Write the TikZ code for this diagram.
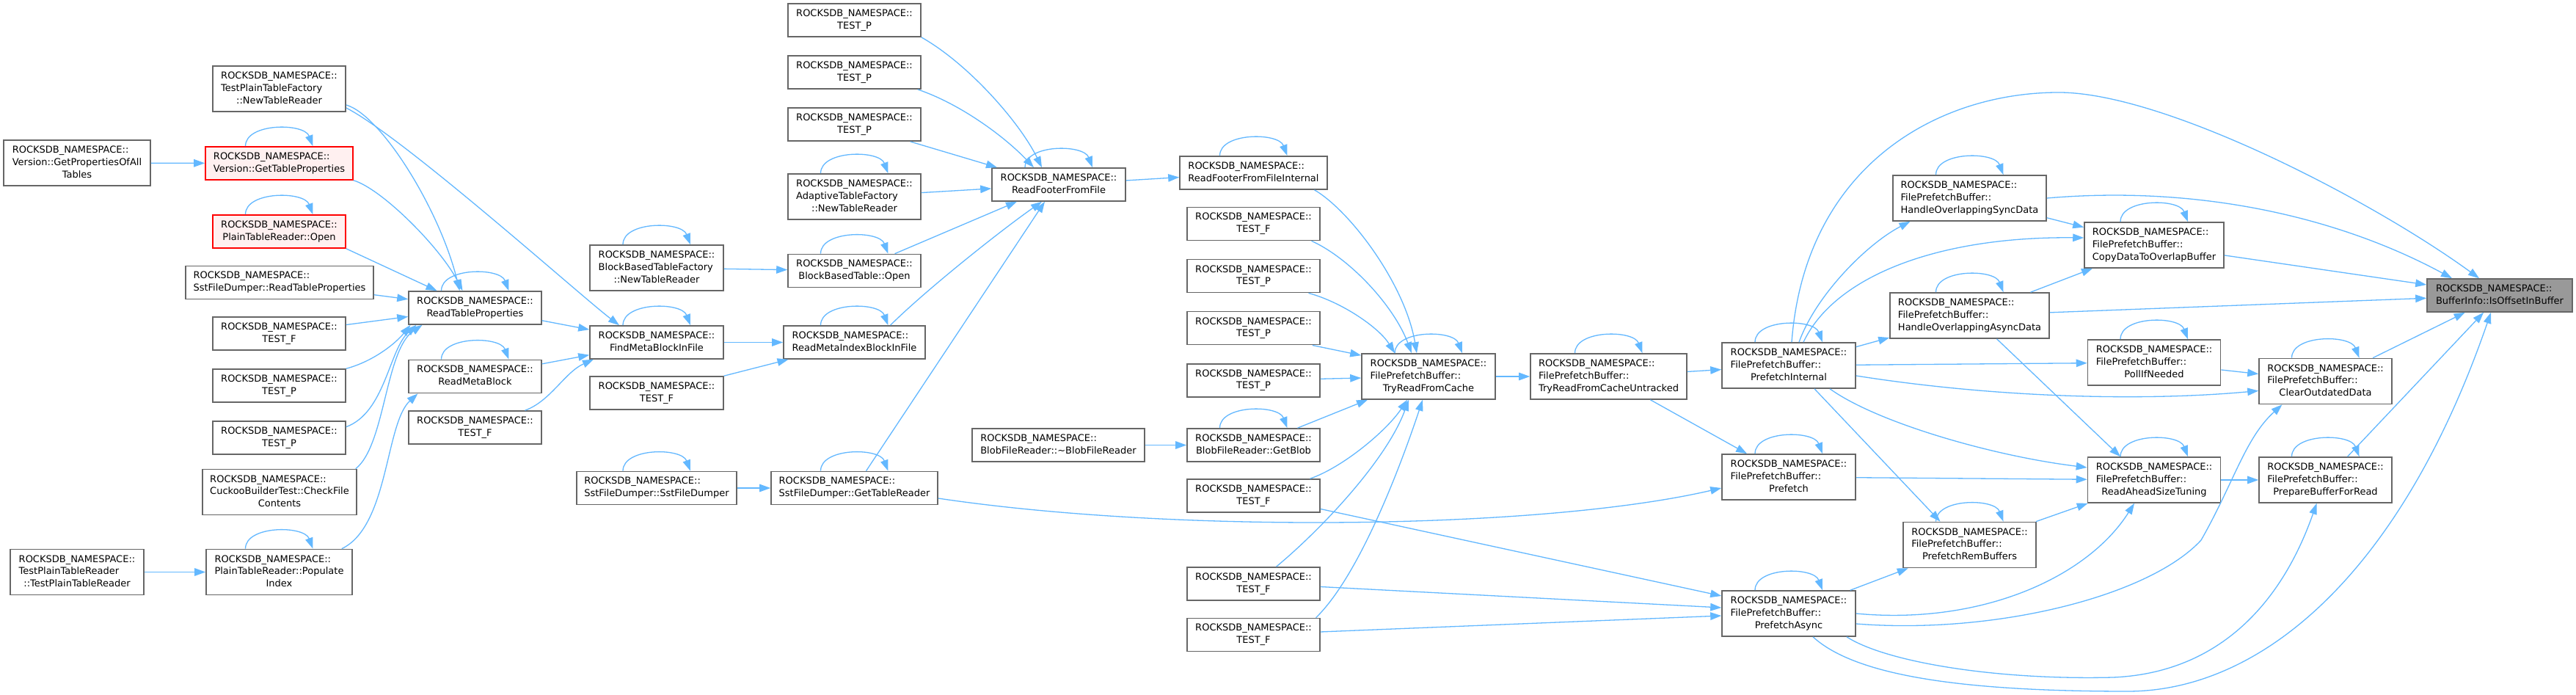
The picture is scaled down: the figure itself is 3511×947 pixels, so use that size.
\documentclass[tikz,border=0pt]{standalone}
\usepackage{fontspec}
\setmainfont{DejaVu Sans}
\usepackage{tikz}
\usetikzlibrary{positioning,arrows.meta}
\definecolor{callblue}{HTML}{63B8FF}
\definecolor{boxgray}{HTML}{666666}
\definecolor{rootgray}{HTML}{999999}
\definecolor{redfill}{HTML}{FFF0F0}
\newcommand{\nsTwo}[1]{\begin{tabular}{@{}l@{}}ROCKSDB\_NAMESPACE::\\\multicolumn{1}{@{}c@{}}{#1}\end{tabular}}
\newcommand{\nsThree}[2]{\begin{tabular}{@{}l@{}}ROCKSDB\_NAMESPACE::\\#1\\\multicolumn{1}{@{}c@{}}{#2}\end{tabular}}

\begin{document}
\begin{tikzpicture}[
  x=1pt, y=1pt,
  node distance=24.5pt,
  fn/.style={rectangle, draw=boxgray, fill=white, line width=1.6pt, inner sep=0pt, minimum height=45pt, font=\fontsize{13}{16.7}\selectfont},
  tallbox/.style={minimum height=62pt},
  redbox/.style={draw=red, fill=redfill},
  rootbox/.style={fill=rootgray},
  calledge/.style={->, draw=callblue, line width=1.3pt},
  >={Triangle[length=15pt,width=10.5pt]}
]
  \useasboundingbox[fill=white] (0,0) rectangle (3511,947);

  \node[fn, rootbox, minimum width=198pt] (n0) at (3407,544.5) {\nsTwo{BufferInfo::IsOffsetInBuffer}};
  \node[fn, tallbox, minimum width=181pt] (cod) at (3169.5,427.5) {\nsThree{FilePrefetchBuffer::}{ClearOutdatedData}};
  \node[fn, tallbox, minimum width=181pt] (pbr) at (3169.5,293) {\nsThree{FilePrefetchBuffer::}{PrepareBufferForRead}};
  \node[fn, tallbox, minimum width=190pt] (cdo) at (2936,613) {\nsThree{FilePrefetchBuffer::}{CopyDataToOverlapBuffer}};
  \node[fn, tallbox, minimum width=181pt] (pin) at (2936,453) {\nsThree{FilePrefetchBuffer::}{PollIfNeeded}};
  \node[fn, tallbox, minimum width=181pt] (rast) at (2936,293) {\nsThree{FilePrefetchBuffer::}{ReadAheadSizeTuning}};
  \node[fn, tallbox, minimum width=209pt] (hosd) at (2684.5,677) {\nsThree{FilePrefetchBuffer::}{HandleOverlappingSyncData}};
  \node[fn, tallbox, minimum width=217pt] (hoad) at (2684.5,517) {\nsThree{FilePrefetchBuffer::}{HandleOverlappingAsyncData}};
  \node[fn, tallbox, minimum width=181pt] (prb) at (2684.5,204.5) {\nsThree{FilePrefetchBuffer::}{PrefetchRemBuffers}};
  \node[fn, tallbox, minimum width=182pt] (pint) at (2438,449) {\nsThree{FilePrefetchBuffer::}{PrefetchInternal}};
  \node[fn, tallbox, minimum width=182pt] (pf) at (2438,297) {\nsThree{FilePrefetchBuffer::}{Prefetch}};
  \node[fn, tallbox, minimum width=182pt] (pa) at (2438,111) {\nsThree{FilePrefetchBuffer::}{PrefetchAsync}};
  \node[fn, tallbox, minimum width=213pt] (trcu) at (2192.5,434) {\nsThree{FilePrefetchBuffer::}{TryReadFromCacheUntracked}};
  \node[fn, tallbox, minimum width=182pt] (trc) at (1947,434) {\nsThree{FilePrefetchBuffer::}{TryReadFromCache}};

  \node[fn, minimum width=201pt] (rffi) at (1708.5,711.5) {\nsTwo{ReadFooterFromFileInternal}};
  \node[fn, minimum width=181pt] (tf1) at (1708.5,642) {\nsTwo{TEST\_F}};
  \node[fn, minimum width=181pt, below=of tf1] (tp1) {\nsTwo{TEST\_P}};
  \node[fn, minimum width=181pt, below=of tp1] (tp2) {\nsTwo{TEST\_P}};
  \node[fn, minimum width=181pt, below=of tp2] (tp3) {\nsTwo{TEST\_P}};
  \node[fn, minimum width=181pt] (gb) at (1708.5,340.5) {\nsTwo{BlobFileReader::GetBlob}};
  \node[fn, minimum width=181pt] (tf2) at (1708.5,271.5) {\nsTwo{TEST\_F}};
  \node[fn, minimum width=181pt] (tf3) at (1708.5,151.5) {\nsTwo{TEST\_F}};
  \node[fn, minimum width=181pt] (tf4) at (1708.5,82) {\nsTwo{TEST\_F}};
  \node[fn, minimum width=235pt] (bfr) at (1442.5,340.5) {\nsTwo{BlobFileReader::\textasciitilde BlobFileReader}};
  \node[fn, minimum width=182pt] (rff) at (1443,695.5) {\nsTwo{ReadFooterFromFile}};

  \node[fn, minimum width=181pt] (tp4) at (1164.5,919.5) {\nsTwo{TEST\_P}};
  \node[fn, minimum width=181pt, below=of tp4] (tp5) {\nsTwo{TEST\_P}};
  \node[fn, minimum width=181pt, below=of tp5] (tp6) {\nsTwo{TEST\_P}};
  \node[fn, tallbox, minimum width=181pt] (atf) at (1164.5,679) {\nsThree{AdaptiveTableFactory}{::NewTableReader}};
  \node[fn, minimum width=181pt] (bbo) at (1164.5,578) {\nsTwo{BlockBasedTable::Open}};
  \node[fn, minimum width=193pt] (rmi) at (1164.5,480.5) {\nsTwo{ReadMetaIndexBlockInFile}};
  \node[fn, minimum width=227pt] (gtr) at (1164.5,282) {\nsTwo{SstFileDumper::GetTableReader}};

  \node[fn, tallbox, minimum width=182pt] (bbf) at (895,582) {\nsThree{BlockBasedTableFactory}{::NewTableReader}};
  \node[fn, minimum width=182pt] (fmb) at (895,480.5) {\nsTwo{FindMetaBlockInFile}};
  \node[fn, minimum width=182pt] (tf5) at (895,411.5) {\nsTwo{TEST\_F}};
  \node[fn, minimum width=218pt] (sfd) at (895,282) {\nsTwo{SstFileDumper::SstFileDumper}};

  \node[fn, minimum width=181pt] (rtp) at (647.5,527.5) {\nsTwo{ReadTableProperties}};
  \node[fn, minimum width=181pt] (rmb) at (647.5,434) {\nsTwo{ReadMetaBlock}};
  \node[fn, minimum width=181pt] (tf6) at (647.5,364.5) {\nsTwo{TEST\_F}};

  \node[fn, tallbox, minimum width=181pt] (tpf) at (380.5,826) {\nsThree{TestPlainTableFactory}{::NewTableReader}};
  \node[fn, redbox, minimum width=201pt] (gtp) at (380.5,724.5) {\nsTwo{Version::GetTableProperties}};
  \node[fn, redbox, minimum width=181pt] (pto) at (380.5,631.5) {\nsTwo{PlainTableReader::Open}};
  \node[fn, minimum width=256pt] (srtp) at (381,562) {\nsTwo{SstFileDumper::ReadTableProperties}};
  \node[fn, minimum width=181pt] (tf7) at (380.5,492.5) {\nsTwo{TEST\_F}};
  \node[fn, minimum width=181pt, below=of tf7] (tp7) {\nsTwo{TEST\_P}};
  \node[fn, minimum width=181pt, below=of tp7] (tp8) {\nsTwo{TEST\_P}};
  \node[fn, tallbox, minimum width=210pt] (cbt) at (381,276.5) {\nsThree{CuckooBuilderTest::CheckFile}{Contents}};
  \node[fn, tallbox, minimum width=199pt] (pti) at (380.5,167.5) {\nsThree{PlainTableReader::Populate}{Index}};

  \node[fn, tallbox, minimum width=200pt] (gpa) at (105,725) {\nsThree{Version::GetPropertiesOfAll}{Tables}};
  \node[fn, tallbox, minimum width=182pt] (tptr) at (105,167.5) {\nsThree{TestPlainTableReader}{::TestPlainTableReader}};

  \draw[calledge] (gpa) -- (gtp);
  \draw[calledge] (tptr) -- (pti);
  \draw[calledge] ([yshift=-22pt]tpf.east) .. controls (520,790) and (600,660) .. ([xshift=-21pt]rtp.north);
  \draw[calledge] (gtp.south east) .. controls (520,690) and (600,610) .. ([xshift=-17pt]rtp.north);
  \draw[calledge] (pto.south east) -- ([xshift=-52pt]rtp.north);
  \draw[calledge] (srtp) -- (rtp);
  \draw[calledge] (tf7) -- (rtp);
  \draw[calledge] (tp7.north east) .. controls (510,455) and (540,480) .. ([xshift=-88pt]rtp.south);
  \draw[calledge] ([yshift=15pt]tp8.east) .. controls (525,385) and (530,470) .. ([xshift=-80pt]rtp.south);
  \draw[calledge] ([xshift=-2pt]cbt.north east) .. controls (525,340) and (525,470) .. ([xshift=-72pt]rtp.south);
  \draw[calledge] ([xshift=-15pt]pti.north east) .. controls (530,230) and (525,370) .. ([xshift=-78pt]rmb.south);
  \draw[calledge] ([yshift=-26pt]tpf.east) .. controls (550,760) and (790,545) .. ([xshift=-51pt]fmb.north);
  \draw[calledge] (rtp) -- (fmb);
  \draw[calledge] (rmb) -- (fmb);
  \draw[calledge] ([xshift=68pt]tf6.north) .. controls (750,400) and (770,440) .. ([xshift=-86pt]fmb.south);
  \draw[calledge] (fmb) -- (rmi);
  \draw[calledge] (tf5.north east) -- ([xshift=-90pt]rmi.south);
  \draw[calledge] (bbf) -- (bbo);
  \draw[calledge] (sfd) -- (gtr);

  \draw[calledge] (tp4.south east) .. controls (1320,860) and (1390,780) .. ([xshift=-23pt]rff.north);
  \draw[calledge] ([xshift=-5pt]tp5.south east) .. controls (1310,805) and (1370,760) .. ([xshift=-34pt]rff.north);
  \draw[calledge] ([xshift=-15pt]tp6.south east) -- ([xshift=-84pt]rff.north);
  \draw[calledge] (atf) -- (rff);
  \draw[calledge] ([xshift=55pt]bbo.north) -- ([xshift=-57pt]rff.south);
  \draw[calledge] ([xshift=49pt]rmi.north) .. controls (1260,550) and (1360,630) .. ([xshift=-23pt]rff.south);
  \draw[calledge] ([xshift=16pt]gtr.north) -- ([xshift=-19pt]rff.south);
  \draw[calledge] (rff) -- (rffi);
  \draw[calledge] (bfr) -- (gb);

  \draw[calledge] ([xshift=83pt]rffi.south) .. controls (1840,660) and (1915,560) .. ([xshift=-16pt]trc.north);
  \draw[calledge] ([xshift=79pt]tf1.south) .. controls (1840,595) and (1900,530) .. ([xshift=-23pt]trc.north);
  \draw[calledge] ([xshift=75pt]tp1.south) .. controls (1830,535) and (1880,500) .. ([xshift=-46pt]trc.north);
  \draw[calledge] ([xshift=-11pt]tp2.south east) -- ([yshift=-3pt]trc.north west);
  \draw[calledge] (tp3) -- (trc);
  \draw[calledge] ([xshift=60pt]gb.north) -- ([xshift=-83pt]trc.south);
  \draw[calledge] ([xshift=77pt]tf2.north) .. controls (1830,310) and (1890,360) .. ([xshift=-29pt]trc.south);
  \draw[calledge] ([xshift=31pt]tf3.north) .. controls (1800,225) and (1890,320) .. ([xshift=-27pt]trc.south);
  \draw[calledge] ([xshift=85pt]tf4.north) .. controls (1850,160) and (1905,300) .. ([xshift=-8pt]trc.south);
  \draw[calledge] (trc) -- (trcu);

  \draw[calledge] ([yshift=-18pt]tf2.east) -- ([yshift=24pt]pa.west);
  \draw[calledge] ([yshift=-4pt]tf3.east) -- ([yshift=8pt]pa.west);
  \draw[calledge] ([yshift=4pt]tf4.east) -- ([yshift=-3pt]pa.west);
  \draw[calledge] ([yshift=-14pt]gtr.east) .. controls (1600,220) and (2100,225) .. ([yshift=-15pt]pf.west);
  \draw[calledge] (trcu) -- (pint);
  \draw[calledge] (trcu) -- (pf);

  \draw[calledge] (pint) -- (hoad);
  \draw[calledge] (pint) -- (pin);
  \draw[calledge] ([xshift=14pt]pint.north) .. controls (2475,545) and (2545,615) .. ([xshift=-81pt]hosd.south);
  \draw[calledge] ([xshift=20pt]pint.north) .. controls (2500,570) and (2640,625) .. ([yshift=10pt]cdo.west);
  \draw[calledge] ([xshift=56pt]pint.south) .. controls (2560,370) and (2720,325) .. ([yshift=17pt]rast.west);
  \draw[calledge] ([xshift=35pt]pint.south) -- ([xshift=-40pt]prb.north);
  \draw[calledge] ([yshift=-14pt]pint.east) .. controls (2720,405) and (2920,400) .. ([yshift=-13pt]cod.west);
  \draw[calledge] ([xshift=4pt]pint.north) .. controls (2460,720) and (2640,821) .. (2806,821) .. controls (2950,821) and (3233,674) .. ([xshift=-28pt]n0.north);
  \draw[calledge] (pf) -- (rast);
  \draw[calledge] (pa) -- (prb);
  \draw[calledge] (pa.east) .. controls (2700,95) and (2845,160) .. ([xshift=-27pt]rast.south);
  \draw[calledge] ([yshift=-14pt]pa.east) .. controls (2720,82) and (2930,135) .. (3000,211) .. controls (3045,290) and (3060,350) .. ([xshift=-59pt]cod.south);
  \draw[calledge] ([xshift=79pt]pa.south) .. controls (2570,45) and (2720,20) .. (2880,24) .. controls (3020,30) and (3108,120) .. ([xshift=-12pt]pbr.south);
  \draw[calledge] ([xshift=33pt]pa.south) .. controls (2530,25) and (2680,5) .. (2900,5) .. controls (3080,5) and (3271,162) .. ([xshift=-12pt]n0.south);
  \draw[calledge] (prb) -- (rast);
  \draw[calledge] ([xshift=37pt]hoad.south) -- ([xshift=-46pt]rast.north);
  \draw[calledge] ([xshift=83pt]hoad.north) -- ([xshift=-84pt]cdo.south);
  \draw[calledge] (hosd) -- (cdo);
  \draw[calledge] (hosd.east) .. controls (3000,695) and (3190,650) .. ([xshift=-65pt]n0.north);
  \draw[calledge] (hoad) -- (n0);
  \draw[calledge] (cdo) -- (n0);
  \draw[calledge] (pin) -- (cod);
  \draw[calledge] (rast) -- (pbr);
  \draw[calledge] (cod) -- (n0);
  \draw[calledge] (pbr) -- (n0);

  \foreach \n in {gtp,pto,rtp,rmb,pti,bbf,fmb,sfd,atf,bbo,rmi,gtr,rff,rffi,gb,trc,trcu,pint,pf,pa,hosd,hoad,prb,cdo,pin,rast,cod,pbr}
    \draw[calledge] ([xshift=-46pt]\n.north) .. controls +(0pt,32pt) and +(-12pt,32pt) .. ([xshift=46pt]\n.north);
\end{tikzpicture}
\end{document}
